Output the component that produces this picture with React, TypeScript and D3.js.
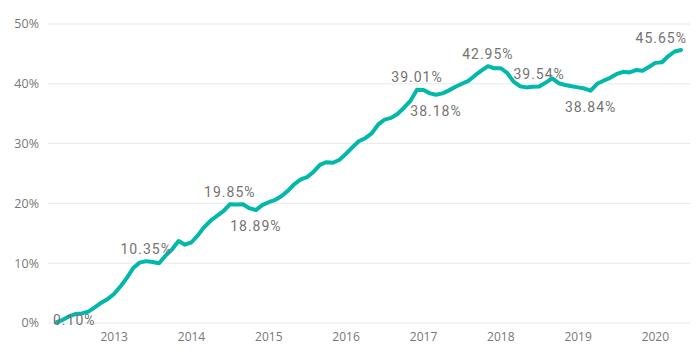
import { useMemo } from 'react';
import * as d3 from 'd3';

// monthly share, starting April 2012
const START_MONTH = new Date(2012, 3, 1);

const shareValues: number[] = [
  0.1, 0.5, 1.1, 1.5, 1.6, 1.9, 2.6, 3.4, 4.0, 4.9, 6.2, 7.5,
  9.2, 10.1, 10.35, 10.2, 10.0, 11.3, 12.3, 13.7, 13.1, 13.5, 14.7, 16.0,
  17.1, 17.9, 18.7, 19.85, 19.8, 19.85, 19.2, 18.89, 19.7, 20.2, 20.6, 21.2,
  22.1, 23.2, 24.0, 24.4, 25.3, 26.5, 26.9, 26.8, 27.3, 28.3, 29.4, 30.4,
  30.9, 31.7, 33.2, 34.0, 34.3, 35.0, 36.0, 37.2, 39.01, 38.95, 38.4, 38.18,
  38.4, 38.9, 39.5, 40.0, 40.5, 41.4, 42.2, 42.95, 42.6, 42.6, 41.8, 40.4,
  39.6, 39.4, 39.5, 39.54, 40.2, 40.9, 40.1, 39.8, 39.6, 39.4, 39.2, 38.84,
  40.0, 40.5, 41.0, 41.6, 42.0, 41.9, 42.3, 42.2, 42.8, 43.5, 43.6, 44.6,
  45.4, 45.65,
];

// which points get a data label, and where
const labelIndex: number[] = [0, 14, 27, 31, 56, 59, 67, 75, 83, 97];
const labelPos: string[] = ['below', 'above', 'above', 'below', 'above', 'below', 'above', 'above', 'below', 'above'];

const yTicks: number[] = [0, 10, 20, 30, 40, 50];

const WIDTH = 699;
const HEIGHT = 354;
const PLOT_LEFT = 48;
const PLOT_RIGHT = 690;
const LINE_COLOR = '#01B8AA';

export default function App() {
  const data = useMemo(
    () => shareValues.map((v, i) => ({ date: d3.timeMonth.offset(START_MONTH, i), value: v })),
    []
  );

  const x = d3.scaleTime()
    .domain([data[0].date, data[data.length - 1].date])
    .range([56, 681]);

  const y = d3.scaleLinear().domain([0, 50]).range([323, 24]);

  const line = d3.line<{ date: Date; value: number }>()
    .x((d) => x(d.date))
    .y((d) => y(d.value))
    .curve(d3.curveLinear);

  const years = x.ticks(d3.timeYear.every(1)!).filter((d) => d.getFullYear() >= 2013);

  const labels = labelIndex.map((idx, k) => {
    const d = data[idx];
    const text = `${d.value.toFixed(2)}%`;
    const w = text.length * 8.6;
    let cx = x(d.date);
    let anchor: 'middle' | 'start' | 'end' = 'middle';
    if (cx - w / 2 < PLOT_LEFT + 5) {
      cx = PLOT_LEFT + 5;
      anchor = 'start';
    } else if (cx + w / 2 > PLOT_RIGHT - 3) {
      cx = PLOT_RIGHT - 3;
      anchor = 'end';
    }
    const py = y(d.value);
    let by = labelPos[k] === 'above' ? py - 7.5 : py + 21;
    by = Math.min(by, y(0) + 2);
    return { key: idx, text, cx, by, anchor };
  });

  return (
    <svg
      width={WIDTH}
      height={HEIGHT}
      style={{ position: 'fixed', left: 0, top: 0, background: '#fff' }}
    >
      {/* gridlines */}
      {yTicks.map((t) => (
        <line key={t} x1={PLOT_LEFT} x2={PLOT_RIGHT} y1={y(t)} y2={y(t)} stroke="#e8e8e8" strokeWidth={1} />
      ))}

      {/* y labels */}
      {yTicks.map((t) => (
        <text
          key={`yl${t}`}
          x={39}
          y={y(t)}
          dy="0.35em"
          textAnchor="end"
          fontFamily="'Open Sans', sans-serif"
          fontSize={12.5}
          fill="#777"
        >
          {`${t}%`}
        </text>
      ))}

      {/* x labels */}
      {years.map((d) => (
        <text
          key={d.getFullYear()}
          x={x(d)}
          y={341}
          textAnchor="middle"
          fontFamily="'Open Sans', sans-serif"
          fontSize={12}
          fill="#777"
        >
          {d.getFullYear()}
        </text>
      ))}

      <path d={line(data) || ''} fill="none" stroke={LINE_COLOR} strokeWidth={4} strokeLinejoin="round" strokeLinecap="round" />

      {/* data labels */}
      {labels.map((l) => (
        <text
          key={`dl${l.key}`}
          x={l.cx}
          y={l.by}
          textAnchor={l.anchor}
          fontFamily="Roboto, sans-serif"
          fontSize={14}
          letterSpacing={1}
          fill="#737373"
        >
          {l.text}
        </text>
      ))}
    </svg>
  );
}
